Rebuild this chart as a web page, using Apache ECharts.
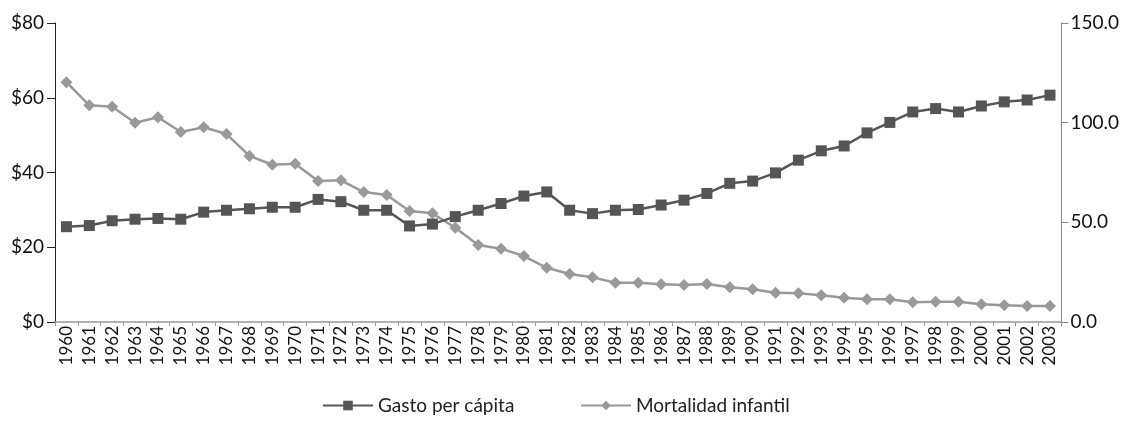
<!DOCTYPE html>
<html>
<head>
<meta charset="utf-8">
<script src="https://cdn.jsdelivr.net/npm/echarts@6/dist/echarts.min.js"></script>
<style>
html,body{margin:0;padding:0;background:#fff;}
#chart{width:1122px;height:422px;}
</style>
</head>
<body>
<div id="chart"></div>
<script>
const years = ["1960","1961","1962","1963","1964","1965","1966","1967","1968","1969","1970","1971","1972","1973","1974","1975","1976","1977","1978","1979","1980","1981","1982","1983","1984","1985","1986","1987","1988","1989","1990","1991","1992","1993","1994","1995","1996","1997","1998","1999","2000","2001","2002","2003"];
const gasto = [25.5,25.8,27.1,27.5,27.7,27.5,29.4,29.9,30.3,30.7,30.7,32.8,32.2,29.9,29.9,25.7,26.2,28.2,29.9,31.7,33.7,34.8,29.9,29.0,29.9,30.1,31.3,32.6,34.4,37.1,37.7,39.9,43.3,45.8,47.1,50.6,53.4,56.2,57.1,56.2,57.8,58.9,59.4,60.7];
const mortalidad = [120.3,108.7,108.0,100.0,102.7,95.3,97.7,94.3,83.3,78.9,79.4,70.7,71.1,65.2,63.7,55.7,54.5,47.3,38.6,36.8,33.1,27.2,24.1,22.4,19.7,19.7,18.9,18.6,19.1,17.4,16.4,14.7,14.4,13.4,12.2,11.4,11.4,9.9,10.2,10.2,8.9,8.4,8.0,8.0];
const leftTicks = [0,20,40,60,80];
const rightTicks = [0,50,100,150];
const seriesNames = ["Gasto per cápita","Mortalidad infantil"];

const FONT = "Lato";
const chart = echarts.init(document.getElementById('chart'), null, {renderer:'canvas'});
chart.setOption({
  animation:false,
  textStyle:{fontFamily:FONT},
  grid:{left:55,right:59,top:23,bottom:100,containLabel:false},
  legend:[
    {data:[seriesNames[0]], left:317, top:391, itemWidth:50, itemHeight:12, itemGap:0,
     textStyle:{fontFamily:FONT,fontSize:19,color:'#222'}},
    {data:[seriesNames[1]], left:575, top:391, itemWidth:50, itemHeight:12, itemGap:0,
     textStyle:{fontFamily:FONT,fontSize:19,color:'#222'}}
  ],
  xAxis:{
    type:'category', data:years, boundaryGap:true,
    axisLine:{lineStyle:{color:'#999',width:1.5}},
    axisTick:{show:true,length:4,lineStyle:{color:'#999'}},
    axisLabel:{rotate:90,fontSize:17,color:'#111',fontFamily:FONT,margin:4,interval:0}
  },
  yAxis:[
    {type:'value',min:0,max:80,interval:20,position:'left',
     axisLine:{show:true,lineStyle:{color:'#222',width:1}},
     axisTick:{show:true,length:8,lineStyle:{color:'#222'}},
     splitLine:{show:false},
     axisLabel:{fontSize:19,color:'#111',fontFamily:FONT,margin:11,
       formatter:v=>leftTicks.includes(v)?'$'+v:''}},
    {type:'value',min:0,max:150,interval:50,position:'right',
     axisLine:{show:true,lineStyle:{color:'#888',width:1}},
     axisTick:{show:true,length:7,lineStyle:{color:'#888'}},
     splitLine:{show:false},
     axisLabel:{fontSize:19,color:'#111',fontFamily:FONT,margin:9,
       formatter:v=>rightTicks.includes(v)?v.toFixed(1):''}}
  ],
  series:[
    {name:seriesNames[0],type:'line',yAxisIndex:0,data:gasto,symbol:'rect',symbolSize:11,
     lineStyle:{color:'#555',width:2.5},itemStyle:{color:'#555'},z:3},
    {name:seriesNames[1],type:'line',yAxisIndex:1,data:mortalidad,symbol:'diamond',symbolSize:12,
     lineStyle:{color:'#999',width:2.5},itemStyle:{color:'#999'},z:2}
  ]
});
</script>
</body>
</html>
